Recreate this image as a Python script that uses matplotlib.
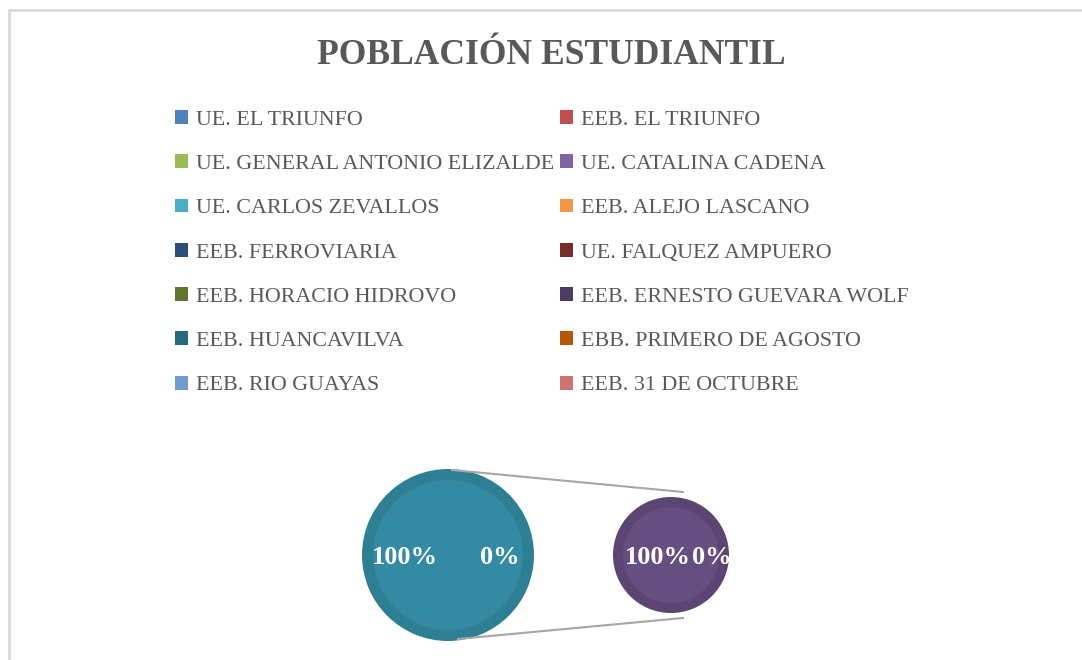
import matplotlib
matplotlib.use("Agg")
import matplotlib.pyplot as plt
from matplotlib.patches import Patch

# ---- data ----
categories = ["UE. EL TRIUNFO", "EEB. EL TRIUNFO",
              "UE. GENERAL ANTONIO ELIZALDE", "UE. CATALINA CADENA",
              "UE. CARLOS ZEVALLOS", "EEB. ALEJO LASCANO",
              "EEB. FERROVIARIA", "UE. FALQUEZ AMPUERO",
              "EEB. HORACIO HIDROVO", "EEB. ERNESTO GUEVARA WOLF",
              "EEB. HUANCAVILVA", "EBB. PRIMERO DE AGOSTO",
              "EEB. RIO GUAYAS", "EEB. 31 DE OCTUBRE"]
legend_colors = ["#4F81BD", "#C0504D", "#9BBB59", "#8064A2", "#4BACC6", "#F79646",
                 "#2C4D75", "#772C2A", "#5F7530", "#4D3B62", "#276A7C", "#B65708",
                 "#729ACA", "#CD7371"]
main_values = [100, 0]        # main pie: percentages
second_values = [100, 0]      # secondary pie: percentages
title = "POBLACIÓN ESTUDIANTIL"

W, H = 1082, 660
fig = plt.figure(figsize=(W / 100, H / 100), dpi=100)
ax = fig.add_axes([0, 0, 1, 1])
ax.set_xlim(0, W)
ax.set_ylim(H, 0)
ax.set_aspect("equal")
ax.axis("off")

serif = ["Liberation Serif", "DejaVu Serif"]

# chart border
ax.plot([9, 9, W + 5], [H + 5, 10, 10], color="#D9D9D9", lw=2, solid_capstyle="butt")

# title
ax.text(551, 55, title, ha="center", va="center", fontsize=25.6, fontweight="bold",
        color="#595959", family=serif)

# legend (Excel fills row-wise; matplotlib fills column-wise)
handles = [Patch(facecolor=c, edgecolor="none") for c in legend_colors]
order = list(range(0, len(categories), 2)) + list(range(1, len(categories), 2))
leg = ax.legend([handles[i] for i in order], [categories[i] for i in order],
                ncol=2, loc="upper left", bbox_to_anchor=(175 / W, 1 - 110 / H),
                bbox_transform=fig.transFigure, frameon=False,
                prop={"family": serif, "size": 15.8},
                handlelength=0.6, handleheight=0.6, handletextpad=0.35,
                columnspacing=0.27, labelspacing=1.12, borderpad=0, borderaxespad=0)
for t in leg.get_texts():
    t.set_color("#595959")

# connector lines
main_c, main_r = (448, 555), 86
sec_c, sec_r = (671, 555), 58
ax.plot([452, 683], [470, 492], color="#A6A6A6", lw=1.5)
ax.plot([458, 683], [639, 618], color="#A6A6A6", lw=1.5)

# main pie
ax.pie(main_values, colors=["#2E7F94", "#2E7F94"], radius=main_r, center=main_c,
       startangle=90, frame=True, wedgeprops={"linewidth": 0})
ax.pie(main_values, colors=["#348AA3", "#348AA3"], radius=main_r - 11, center=main_c,
       startangle=90, frame=True, wedgeprops={"linewidth": 0})
# secondary pie
ax.pie(second_values, colors=["#5C4573", "#5C4573"], radius=sec_r, center=sec_c,
       startangle=90, frame=True, wedgeprops={"linewidth": 0})
ax.pie(second_values, colors=["#664F80", "#664F80"], radius=sec_r - 10, center=sec_c,
       startangle=90, frame=True, wedgeprops={"linewidth": 0})
ax.set_xlim(0, W)
ax.set_ylim(H, 0)
ax.axis("off")

# data labels
lab_kw = dict(ha="center", va="center", color="white", family=serif, fontsize=19,
              fontweight="bold")
ax.text(405, 557, f"{main_values[0]}%", **lab_kw)
ax.text(500, 557, f"{main_values[1]}%", **lab_kw)
ax.text(658, 557, f"{second_values[0]}%", **lab_kw)
ax.text(712, 557, f"{second_values[1]}%", **lab_kw)

fig.savefig("out.png", dpi=100)
